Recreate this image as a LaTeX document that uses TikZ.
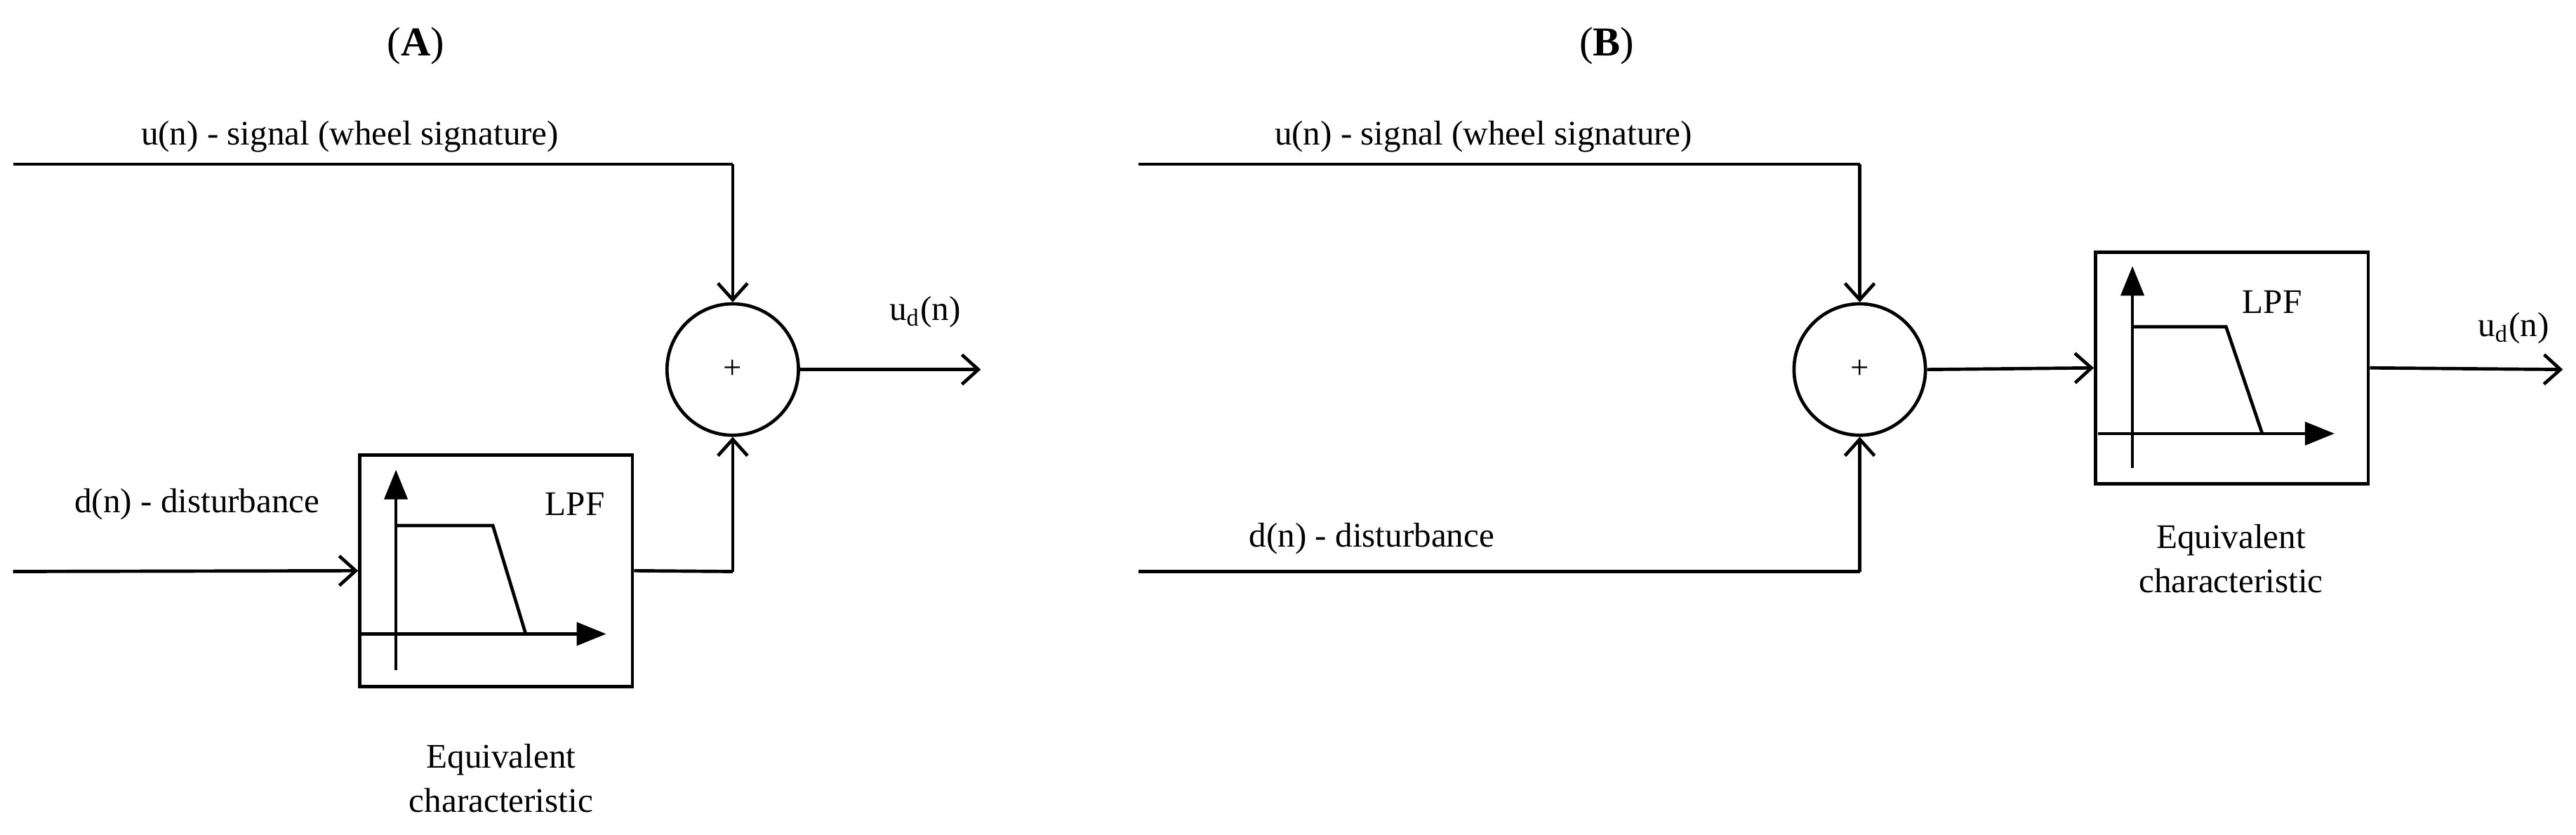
\documentclass[tikz,border=0pt]{standalone}
\usepackage{fontspec}
\setmainfont{Liberation Serif}
\usetikzlibrary{arrows.meta}
\begin{document}
\begin{tikzpicture}[x=0.5pt,y=-0.5pt,
  wire/.style={line width=1pt},
  sig/.style={wire,-{Straight Barb[length=5pt,width=9pt,line width=1pt]}},
  ax/.style={line width=1pt,-{Triangle[length=9pt,width=7pt]}},
  sum/.style={circle,draw,line width=1pt,minimum size=40pt,inner sep=0pt,font=\fontsize{10}{12}\selectfont},
  blk/.style={draw,line width=1pt,minimum width=83pt,minimum height=70.5pt,inner sep=0pt},
  lbl/.style={font=\fontsize{10.5}{12.5}\selectfont,inner sep=0pt},
  ttl/.style={font=\fontsize{12.5}{14}\selectfont,inner sep=0pt}]
\useasboundingbox (0,0) rectangle (1568,508);
% ---------- Panel A ----------
\node[ttl] (tA) at (253,28) {(\textbf{A})};
\coordinate (a_u) at (8,100);
\coordinate (a_d) at (8,348);
\node[sum] (sA) at (446,225) {+};
\node[blk] (bA) at (302,347.5) {};
\draw[wire] (a_u) -- (446,100) coordinate (a_c1);
\draw[sig] (a_c1) -- (sA.north);
\draw[sig] (a_d) -- (bA.west);
\draw[wire] (bA.east) -- (446,348) coordinate (a_c2);
\draw[sig] (a_c2) -- (sA.south);
\coordinate (a_o) at (597,225);
\draw[sig] (sA.east) -- (a_o);
\node[lbl] (luA) at (213,83) {u(n) - signal (wheel signature)};
\node[lbl] (ldA) at (120,307) {d(n) - disturbance};
\node[lbl] (loA) at (563,190) {u\textsubscript{d}(n)};
\draw[ax] (241,408) -- (241,286);
\draw[ax] (219,386) -- (369,386);
\draw[line width=1pt] (241,320) -- (300,320) -- (320,386);
\node[lbl] (lpA) at (350,307) {LPF};
\node[lbl,align=center,font=\fontsize{10.5}{13.5}\selectfont] (eA) at (305,474) {Equivalent\\characteristic};
% ---------- Panel B ----------
\node[ttl] (tB) at (978,28) {(\textbf{B})};
\coordinate (b_u) at (693,100);
\coordinate (b_d) at (693,348);
\node[sum] (sB) at (1132,225) {+};
\node[blk] (bB) at (1358.5,224) {};
\draw[wire] (b_u) -- (1132,100) coordinate (b_c1);
\draw[sig] (b_c1) -- (sB.north);
\draw[wire] (b_d) -- (1132,348) coordinate (b_c2);
\draw[sig] (b_c2) -- (sB.south);
\draw[sig] (sB.east) -- (bB.west);
\coordinate (b_o) at (1560,225);
\draw[sig] (bB.east) -- (b_o);
\node[lbl] (luB) at (903,83) {u(n) - signal (wheel signature)};
\node[lbl] (ldB) at (835,328) {d(n) - disturbance};
\node[lbl] (loB) at (1530,200) {u\textsubscript{d}(n)};
\draw[ax] (1298,285) -- (1298,162);
\draw[ax] (1277,264) -- (1421,264);
\draw[line width=1pt] (1298,199) -- (1355,199) -- (1377,264);
\node[lbl] (lpB) at (1383,184) {LPF};
\node[lbl,align=center,font=\fontsize{10.5}{13.5}\selectfont] (eB) at (1358,340) {Equivalent\\characteristic};
\end{tikzpicture}
\end{document}
